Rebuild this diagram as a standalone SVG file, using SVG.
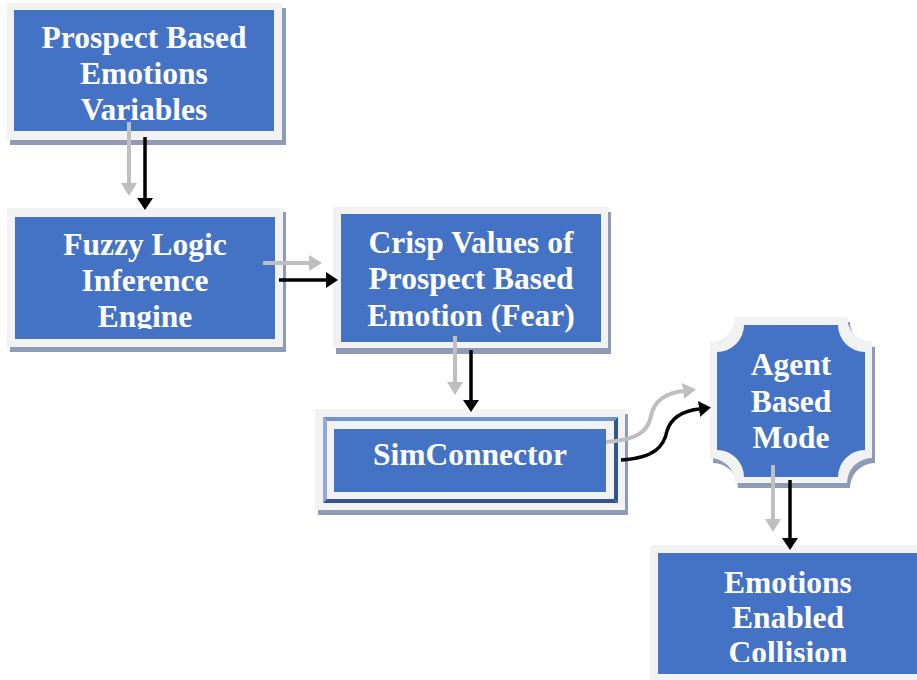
<svg xmlns="http://www.w3.org/2000/svg" width="917" height="680" viewBox="0 0 917 680">
  <style>
    .frame { fill: #f2f2f2; }
    .shadow { fill: #8f9bb6; }
    .face { fill: #4472c4; }
    .label { font-family: "Liberation Serif", "Times New Roman", serif; font-weight: bold; font-size: 31.5px; fill: #ffffff; text-anchor: middle; }
    .wire-gray { fill: none; stroke: #bfbfbf; stroke-width: 4; }
    .wire-black { fill: none; stroke: #000000; stroke-width: 3.5; }
  </style>
  <defs>
    <marker id="head-gray" markerUnits="userSpaceOnUse" markerWidth="14" markerHeight="16" viewBox="0 0 14 16" refX="0" refY="8" orient="auto">
      <path d="M0,0 L13,8 L0,16 Z" fill="#bfbfbf"/>
    </marker>
    <marker id="head-black" markerUnits="userSpaceOnUse" markerWidth="14" markerHeight="16" viewBox="0 0 14 16" refX="0" refY="8" orient="auto">
      <path d="M0,0 L12,8 L0,16 Z" fill="#000000"/>
    </marker>
    <clipPath id="clip-engine"><rect x="15" y="217" width="260" height="112"/></clipPath>
    <clipPath id="clip-collision"><rect x="658" y="553" width="260" height="109"/></clipPath>
  </defs>

  <!-- Prospect Based Emotions Variables -->
  <g id="node-variables">
    <rect class="shadow" x="10" y="8" width="276" height="137"/>
    <rect class="frame" x="7" y="3" width="275" height="137"/>
    <rect class="face" x="14" y="10" width="260" height="121"/>
    <text class="label" x="144" y="48">Prospect Based</text>
    <text class="label" x="144" y="84">Emotions</text>
    <text class="label" x="144" y="120">Variables</text>
  </g>

  <!-- Fuzzy Logic Inference Engine -->
  <g id="node-fuzzy">
    <rect class="shadow" x="10" y="212" width="276" height="140"/>
    <rect class="frame" x="7" y="208" width="276" height="139"/>
    <rect class="face" x="15" y="217" width="260" height="122"/>
    <g clip-path="url(#clip-engine)">
      <text class="label" x="145" y="255">Fuzzy Logic</text>
      <text class="label" x="145" y="291">Inference</text>
      <text class="label" x="145" y="327">Engine</text>
    </g>
  </g>

  <!-- Crisp Values of Prospect Based Emotion (Fear) -->
  <g id="node-crisp">
    <rect class="shadow" x="336" y="212" width="275" height="142"/>
    <rect class="frame" x="333" y="207" width="275" height="141"/>
    <rect class="face" x="341" y="214" width="260" height="128"/>
    <text class="label" x="471" y="253">Crisp Values of</text>
    <text class="label" x="471" y="289">Prospect Based</text>
    <text class="label" x="471" y="326">Emotion (Fear)</text>
  </g>

  <!-- SimConnector (bevelled frame) -->
  <g id="node-simconnector">
    <rect class="shadow" x="318" y="414" width="310" height="101"/>
    <rect class="frame" x="315" y="409" width="310" height="101"/>
    <polygon points="323,417 618,417 614,421 327,421" fill="#6f93d3"/>
    <polygon points="323,417 327,421 327,499 323,503" fill="#8eaadb"/>
    <polygon points="618,417 618,503 614,499 614,421" fill="#2f5597"/>
    <polygon points="323,503 327,499 614,499 618,503" fill="#2f5597"/>
    <rect class="face" x="334" y="429" width="272" height="63"/>
    <text class="label" x="470" y="465">SimConnector</text>
  </g>

  <!-- Agent Based Mode (plaque) -->
  <g id="node-agent">
    <path class="shadow" d="M738,322 H850 A25,25 0 0 0 875,347 V463 A25,25 0 0 0 850,488 H738 A25,25 0 0 0 713,463 V347 A25,25 0 0 0 738,322 Z"/>
    <path class="frame" d="M735,317 H847 A25,25 0 0 0 872,342 V458 A25,25 0 0 0 847,483 H735 A25,25 0 0 0 710,458 V342 A25,25 0 0 0 735,317 Z"/>
    <path class="face" d="M744,325 H838 A27,27 0 0 0 865,352 V450 A27,27 0 0 0 838,477 H744 A27,27 0 0 0 717,450 V352 A27,27 0 0 0 744,325 Z"/>
    <text class="label" x="791" y="375">Agent</text>
    <text class="label" x="791" y="412">Based</text>
    <text class="label" x="791" y="448">Mode</text>
  </g>

  <!-- Emotions Enabled Collision -->
  <g id="node-collision">
    <rect class="frame" x="650" y="545" width="280" height="140"/>
    <rect class="face" x="658" y="553" width="270" height="121"/>
    <g clip-path="url(#clip-collision)">
      <text class="label" x="788" y="593">Emotions</text>
      <text class="label" x="788" y="628">Enabled</text>
      <text class="label" x="788" y="663">Collision</text>
    </g>
  </g>

  <!-- Connectors: a gray and a black arrow for each link -->
  <g id="connectors">
    <path class="wire-gray" d="M129,122 V183" marker-end="url(#head-gray)"/>
    <path class="wire-black" d="M145,137 V198" marker-end="url(#head-black)"/>

    <path class="wire-gray" d="M263,263 H309" marker-end="url(#head-gray)"/>
    <path class="wire-black" d="M279,280 H326" marker-end="url(#head-black)"/>

    <path class="wire-gray" d="M455,336 V382" marker-end="url(#head-gray)"/>
    <path class="wire-black" d="M471,350 V400" marker-end="url(#head-black)"/>

    <path class="wire-gray" d="M606,442 C638,440 648,431 651,416 C654,400 667,393 683,391" marker-end="url(#head-gray)"/>
    <path class="wire-black" d="M621,460 C655,458 664,446 667,431 C671,418 682,411 699,409" marker-end="url(#head-black)"/>

    <path class="wire-gray" d="M773,465 V519" marker-end="url(#head-gray)"/>
    <path class="wire-black" d="M790,480 V538" marker-end="url(#head-black)"/>
  </g>
</svg>
